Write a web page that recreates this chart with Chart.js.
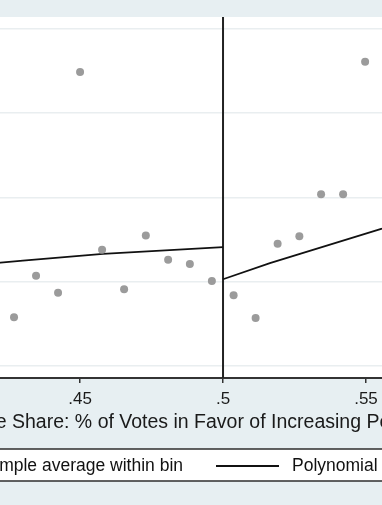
<!DOCTYPE html>
<html>
<head>
<meta charset="utf-8">
<script src="https://cdn.jsdelivr.net/npm/chart.js@4"></script>
<style>
  html, body { margin: 0; padding: 0; overflow: hidden; background: #e7eff2; }
  body { width: 382px; height: 505px; position: relative; }
  #chart { position: absolute; left: -60px; top: 0; }
</style>
</head>
<body>
<canvas id="chart" width="502" height="505"></canvas>
<script>
// bin averages (x = vote share bin centre)
const binX = [0.4269, 0.4346, 0.4423, 0.4500, 0.4577, 0.4654, 0.4730, 0.4808, 0.4884, 0.4961,
              0.5037, 0.5114, 0.5191, 0.5267, 0.5343, 0.5420, 0.5497];
const binY = [0.058, 0.107, 0.087, 0.349, 0.138, 0.091, 0.155, 0.126, 0.121, 0.101,
              0.084, 0.057, 0.145, 0.154, 0.204, 0.204, 0.361];

// polynomial fit, each side of the cutoff
const fitLeftX = [0.410, 0.430, 0.458, 0.500];
const fitLeftY = [0.119, 0.125, 0.133, 0.141];
const fitRightX = [0.500, 0.5164, 0.5269, 0.5556, 0.566];
const fitRightY = [0.103, 0.122, 0.133, 0.163, 0.175];

const cutoff = 0.5;
const xTicks = [0.45, 0.5, 0.55];
const yGrid = [0, 0.1, 0.2, 0.3, 0.4];

const xMin = 0.4115, xMax = 0.5661;
const yMin = -0.0142, yMax = 0.4142;

const bgColor = '#e7eff2';
const xTitle = 'Vote Share: % of Votes in Favor of Increasing Police Budget';
const legendLabels = ['Sample average within bin', 'Polynomial fit'];

const PAGE_OFF = 60; // canvas is shifted left by this much

const pts = (xs, ys) => xs.map((x, i) => ({ x: x, y: ys[i] }));

const framePlugin = {
    id: 'frame',
    beforeDraw(chart) {
        const c = chart.ctx, a = chart.chartArea;
        c.save();
        c.fillStyle = bgColor;
        c.fillRect(0, 0, chart.width, chart.height);
        c.fillStyle = '#ffffff';
        c.fillRect(a.left, a.top, a.right - a.left, a.bottom - a.top);
        c.restore();
    },
    afterDraw(chart) {
        const c = chart.ctx;
        c.save();
        // axis title, placed so that "Share" starts where it does in the original
        c.font = '19.5px "Liberation Sans", Arial, sans-serif';
        c.fillStyle = '#1a1a1a';
        c.textBaseline = 'alphabetic';
        c.textAlign = 'left';
        c.fillText(xTitle, PAGE_OFF + 12 - c.measureText('Vote ').width, 428);

        // legend box
        c.fillStyle = '#ffffff';
        c.fillRect(2, 449, chart.width - 4, 32);
        c.strokeStyle = '#3a3a3a';
        c.lineWidth = 1.6;
        c.strokeRect(2, 449, chart.width - 4, 32);

        c.font = '17.5px "Liberation Sans", Arial, sans-serif';
        c.fillStyle = '#111';
        c.textBaseline = 'middle';
        c.textAlign = 'right';
        const w0 = c.measureText(legendLabels[0]).width;
        c.fillText(legendLabels[0], PAGE_OFF + 183, 466);
        c.fillStyle = '#999';
        c.beginPath();
        c.arc(PAGE_OFF + 183 - w0 - 16, 466, 4, 0, Math.PI * 2);
        c.fill();

        c.strokeStyle = '#111';
        c.lineWidth = 1.8;
        c.beginPath();
        c.moveTo(PAGE_OFF + 216, 466);
        c.lineTo(PAGE_OFF + 279, 466);
        c.stroke();
        c.fillStyle = '#111';
        c.textAlign = 'left';
        c.fillText(legendLabels[1], PAGE_OFF + 292, 466);
        c.restore();
    }
};

const chart = new Chart(document.getElementById('chart'), {
    type: 'scatter',
    data: {
        datasets: [
            {
                label: legendLabels[0],
                data: pts(binX, binY),
                pointRadius: 4,
                pointBackgroundColor: '#9b9b9b',
                pointBorderWidth: 0,
                order: 1
            },
            {
                label: legendLabels[1],
                data: pts(fitLeftX, fitLeftY),
                showLine: true,
                pointRadius: 0,
                borderColor: '#111',
                borderWidth: 1.8,
                order: 2
            },
            {
                label: 'fit right',
                data: pts(fitRightX, fitRightY),
                showLine: true,
                pointRadius: 0,
                borderColor: '#111',
                borderWidth: 1.8,
                order: 2
            },
            {
                label: 'cutoff',
                data: [{ x: cutoff, y: yMin }, { x: cutoff, y: yMax }],
                showLine: true,
                pointRadius: 0,
                borderColor: '#222',
                borderWidth: 2,
                order: 3
            }
        ]
    },
    options: {
        responsive: false,
        animation: false,
        devicePixelRatio: 1,
        layout: { padding: { top: 17, left: 30, right: 30, bottom: 87 } },
        plugins: { legend: { display: false }, tooltip: { enabled: false } },
        scales: {
            x: {
                type: 'linear',
                min: xMin,
                max: xMax,
                afterBuildTicks: s => { s.ticks = xTicks.map(v => ({ value: v })); },
                afterFit: s => { s.height = 40; },
                grid: { drawOnChartArea: false, drawTicks: true, tickLength: 5, color: '#333', lineWidth: 1.5 },
                border: { color: '#333', width: 2 },
                ticks: {
                    padding: 6,
                    color: '#1a1a1a',
                    font: { family: '"Liberation Sans", Arial, sans-serif', size: 17 },
                    callback: v => String(v).replace(/^0/, '')
                }
            },
            y: {
                min: yMin,
                max: yMax,
                afterBuildTicks: s => { s.ticks = yGrid.map(v => ({ value: v })); },
                afterFit: s => { s.width = 0; },
                ticks: { display: false },
                grid: { color: '#e9eef0', lineWidth: 1.5, drawTicks: false },
                border: { display: false }
            }
        }
    },
    plugins: [framePlugin]
});
</script>
</body>
</html>
